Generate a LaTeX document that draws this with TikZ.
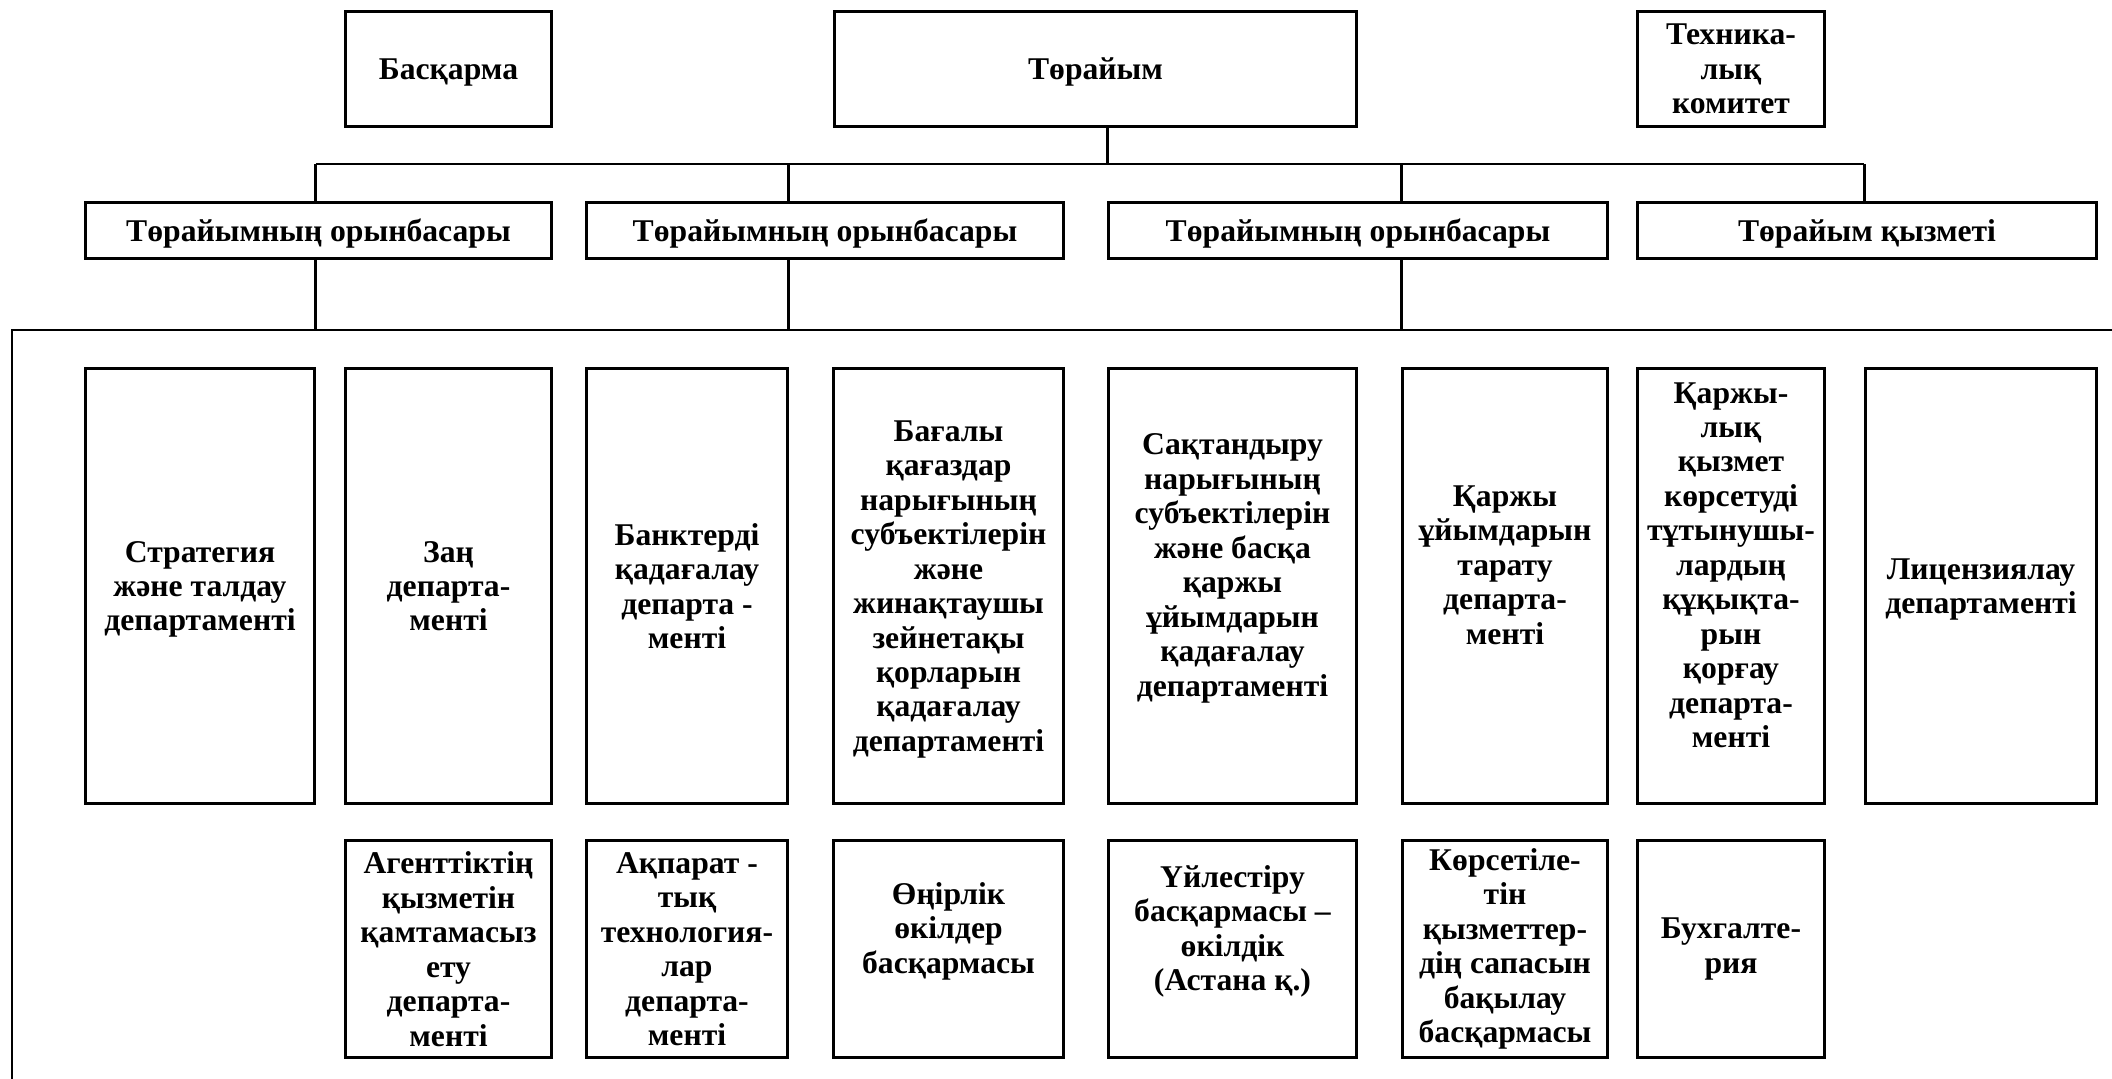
\documentclass[tikz,border=0pt]{standalone}
\usepackage{fontspec}
\setmainfont{Liberation Serif}
\begin{document}
\begin{tikzpicture}[x=0.01cm,y=-0.01cm,
    box/.style={draw,line width=0.85pt,align=center,inner sep=0pt,font=\fontsize{9}{9.8}\selectfont\bfseries},
    lifted/.style={text depth=0.42cm},
    sunk/.style={text depth=-0.03cm},
    link/.style={line width=0.75pt}]
        \useasboundingbox (0,0) rectangle (2112,1079);
        \node[box,sunk,minimum width=2.05cm,minimum height=1.14cm] (bask) at (448.5,69) {Басқарма};
        \node[box,sunk,minimum width=5.21cm,minimum height=1.14cm] (chair) at (1095.5,69) {Төрайым};
        \node[box,sunk,minimum width=1.86cm,minimum height=1.14cm] (tech) at (1731,69) {Техника-\\лық\\комитет};

        \node[box,text depth=0pt,minimum width=4.65cm,minimum height=0.55cm] (dep1) at (318.5,230.5) {Төрайымның орынбасары};
        \node[box,text depth=0pt,minimum width=4.76cm,minimum height=0.55cm] (dep2) at (825,230.5) {Төрайымның орынбасары};
        \node[box,text depth=0pt,minimum width=4.98cm,minimum height=0.55cm] (dep3) at (1358,230.5) {Төрайымның орынбасары};
        \node[box,text depth=0pt,minimum width=4.58cm,minimum height=0.55cm] (serv) at (1867,230.5) {Төрайым қызметі};

        \node[box,sunk,minimum width=2.28cm,minimum height=4.34cm] (strat) at (200,586) {Стратегия\\және талдау\\департаменті};
        \node[box,sunk,minimum width=2.05cm,minimum height=4.34cm] (law) at (448.5,586) {Заң\\департа-\\менті};
        \node[box,sunk,minimum width=2.00cm,minimum height=4.34cm] (bank) at (687,586) {Банктерді\\қадағалау\\департа -\\менті};
        \node[box,sunk,minimum width=2.29cm,minimum height=4.34cm] (secur) at (948.5,586) {Бағалы\\қағаздар\\нарығының\\субъектілерін\\және\\жинақтаушы\\зейнетақы\\қорларын\\қадағалау\\департаменті};
        \node[box,lifted,minimum width=2.47cm,minimum height=4.34cm] (insur) at (1232.5,586) {Сақтандыру\\нарығының\\субъектілерін\\және басқа\\қаржы\\ұйымдарын\\қадағалау\\департаменті};
        \node[box,lifted,minimum width=2.04cm,minimum height=4.34cm] (liq) at (1505,586) {Қаржы\\ұйымдарын\\тарату\\департа-\\менті};
        \node[box,lifted,minimum width=1.86cm,minimum height=4.34cm] (cons) at (1731,586) {Қаржы-\\лық\\қызмет\\көрсетуді\\тұтынушы-\\лардың\\құқықта-\\рын\\қорғау\\департа-\\менті};
        \node[box,sunk,minimum width=2.30cm,minimum height=4.34cm] (lic) at (1981,586) {Лицензиялау\\департаменті};

        \node[box,minimum width=2.05cm,minimum height=2.16cm] (supp) at (448.5,949) {Агенттіктің\\қызметін\\қамтамасыз\\ету\\департа-\\менті};
        \node[box,minimum width=2.00cm,minimum height=2.16cm] (it) at (687,949) {Ақпарат -\\тық\\технология-\\лар\\департа-\\менті};
        \node[box,lifted,minimum width=2.29cm,minimum height=2.16cm] (reg) at (948.5,949) {Өңірлік\\өкілдер\\басқармасы};
        \node[box,lifted,minimum width=2.47cm,minimum height=2.16cm] (coord) at (1232.5,949) {Үйлестіру\\басқармасы –\\өкілдік\\(Астана қ.)};
        \node[box,minimum width=2.04cm,minimum height=2.16cm] (qual) at (1505,949) {Көрсетіле-\\тін\\қызметтер-\\дің сапасын\\бақылау\\басқармасы};
        \node[box,minimum width=1.86cm,minimum height=2.16cm] (acc) at (1731,949) {Бухгалте-\\рия};

        \coordinate (bus) at (0,164);
        \coordinate (rail) at (12,330);
        \coordinate (railend) at (2112,330);
        \coordinate (railfoot) at (12,1079);
        \draw[link] (chair.south -| insur.west) -- (insur.west |- bus);
        \draw[link] (strat.east |- bus) -- (lic.west |- bus);
        \foreach \n in {strat.east,bank.east,liq.west,lic.west}
          \draw[link] (\n |- bus) -- (\n |- dep1.north);
        \foreach \n in {strat.east,bank.east,liq.west}
          \draw[link] (\n |- dep1.south) -- (\n |- rail);
        \draw[link] (railend) -- (rail) -- (railfoot);
\end{tikzpicture}
\end{document}
